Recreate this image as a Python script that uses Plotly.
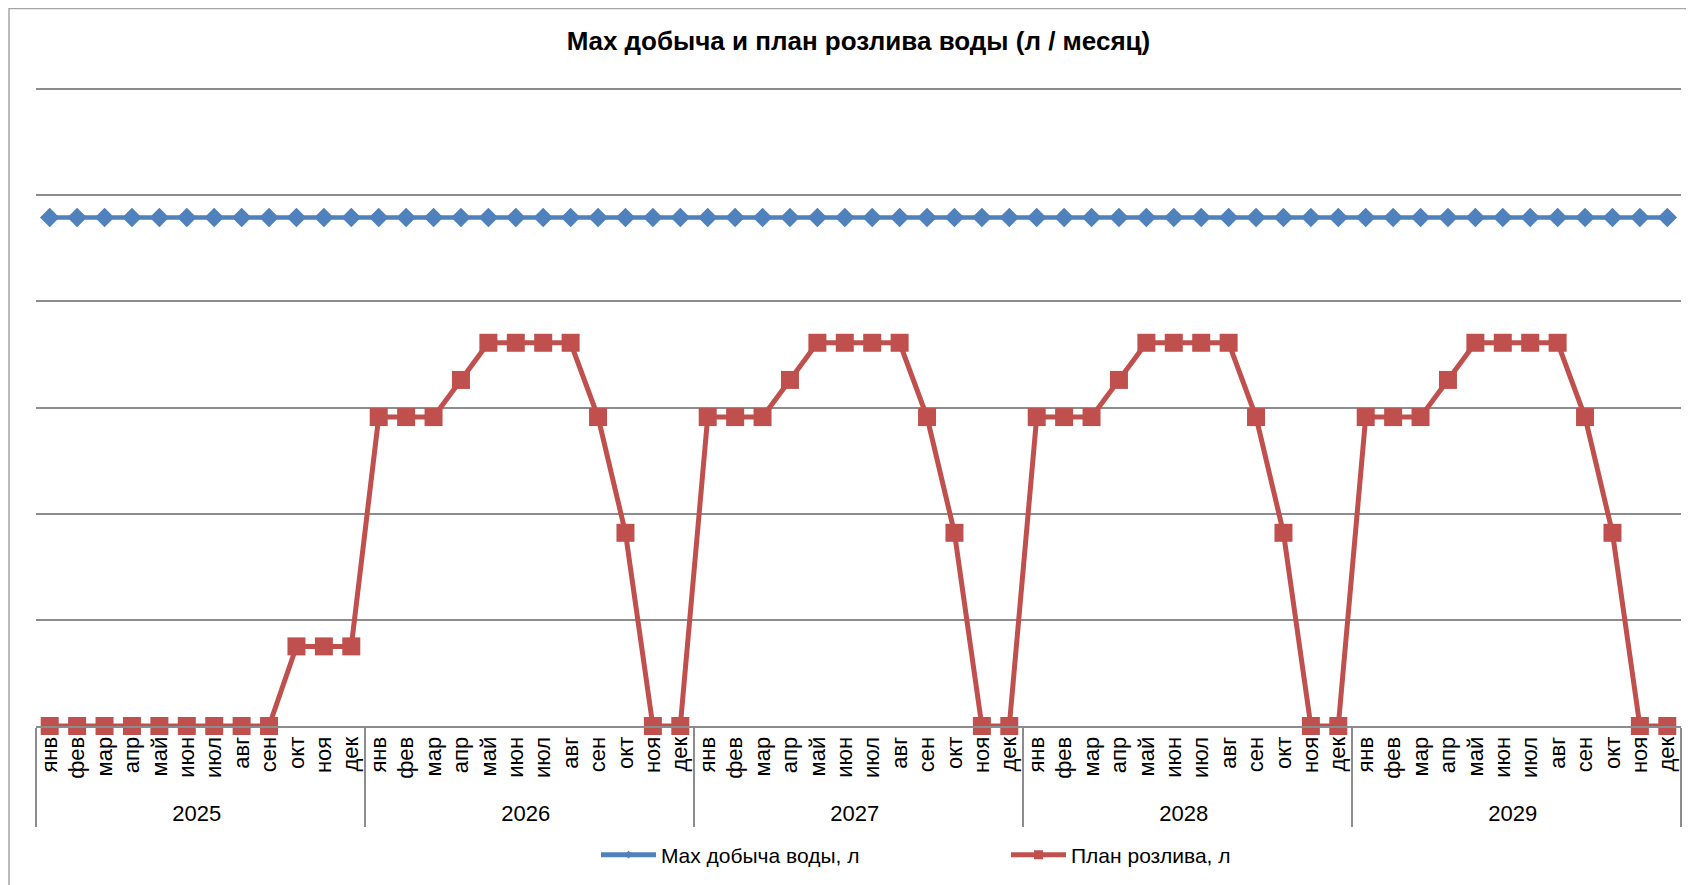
import plotly.graph_objects as go

years = ["2025", "2026", "2027", "2028", "2029"]
months = ["янв", "фев", "мар", "апр", "май", "июн", "июл", "авг", "сен", "окт", "ноя", "дек"]

max_dobycha = [479000] * 60

plan_2025 = [0, 0, 0, 0, 0, 0, 0, 0, 0, 75000, 75000, 75000]
plan_2026 = [291000, 291000, 291000, 326000, 361000, 361000, 361000, 361000, 291000, 182000, 0, 0]
plan_2027 = [291000, 291000, 291000, 326000, 361000, 361000, 361000, 361000, 291000, 182000, 0, 0]
plan_2028 = [291000, 291000, 291000, 326000, 361000, 361000, 361000, 361000, 291000, 182000, 0, 0]
plan_2029 = [291000, 291000, 291000, 326000, 361000, 361000, 361000, 361000, 291000, 182000, 0, 0]
plan_rozliva = plan_2025 + plan_2026 + plan_2027 + plan_2028 + plan_2029

x_years = [y for y in years for _ in months]
x_months = [m for _ in years for m in months]

BLUE = "#4F81BD"
RED = "#C0504D"

# page body has an 8px margin; work in screen coordinates and compensate
OFF = 8
W, H = 1694 - OFF, 885 - OFF
ML, MR, MT, MB = 36 - OFF, 13, 88 - OFF, 159

fig = go.Figure()
fig.add_trace(go.Scatter(
    x=[x_years, x_months], y=max_dobycha, name="Max добыча воды, л",
    mode="lines+markers", legendgroup="a", showlegend=False,
    line=dict(color=BLUE, width=4.5),
    marker=dict(symbol="diamond", size=15, color=BLUE),
    cliponaxis=False,
))
fig.add_trace(go.Scatter(
    x=[x_years, x_months], y=plan_rozliva, name="План розлива, л",
    mode="lines+markers", legendgroup="b", showlegend=False,
    line=dict(color=RED, width=5),
    marker=dict(symbol="square", size=18, color=RED),
    cliponaxis=False,
))
# legend entries (small markers as in the original legend)
fig.add_trace(go.Scatter(
    x=[None], y=[None], name="Max добыча воды, л", legendgroup="a",
    mode="lines+markers", line=dict(color=BLUE, width=5),
    marker=dict(symbol="diamond", size=6, color=BLUE),
))
fig.add_trace(go.Scatter(
    x=[None], y=[None], name="План розлива, л", legendgroup="b",
    mode="lines+markers", line=dict(color=RED, width=5),
    marker=dict(symbol="square", size=9, color=RED),
))

pw = W - ML - MR
ph = H - MT - MB
def px(xs):
    return (xs - OFF - ML) / pw
def py(ys):
    return (H - MB - (ys - OFF)) / ph

fig.update_layout(
    width=W, height=H,
    margin=dict(l=ML, r=MR, t=MT, b=MB, autoexpand=False),
    paper_bgcolor="white", plot_bgcolor="white",
    font=dict(family="Liberation Sans, Arial, sans-serif", color="black"),
    title=dict(text="<b>Max добыча и план розлива воды (л / месяц)</b>",
               font=dict(size=26, family="Liberation Sans, Arial, sans-serif", color="black"),
               x=0.5, xref="paper", xanchor="center",
               y=1 - (41 - OFF) / H, yref="container", yanchor="middle"),
    showlegend=True,
    legend=dict(orientation="h", x=px(596), xanchor="left", y=py(855), yanchor="middle",
                font=dict(size=21), itemwidth=55, entrywidth=340, bgcolor="rgba(0,0,0,0)"),
    xaxis=dict(
        type="multicategory",
        range=[-0.5, 59.5],
        autorange=False,
        showgrid=False,
        showline=True, linecolor="#8C8C8C", linewidth=2,
        tickangle=-90,
        ticks="",
        tickfont=dict(size=22, color="black"),
        showdividers=True, dividercolor="#8C8C8C", dividerwidth=2,
    ),
    yaxis=dict(
        range=[0, 601000],
        autorange=False,
        tickvals=[100000, 200000, 300000, 400000, 500000, 600000],
        showticklabels=False,
        showgrid=True, gridcolor="#8C8C8C", gridwidth=2,
        zeroline=False, showline=False, ticks="",
    ),
    shapes=[dict(type="rect", xref="paper", yref="paper",
                 x0=px(9), x1=px(1720), y0=py(8.5), y1=py(920),
                 line=dict(color="#A6A6A6", width=1.5), fillcolor="rgba(0,0,0,0)", layer="below")],
)

fig.write_html("out.html")
